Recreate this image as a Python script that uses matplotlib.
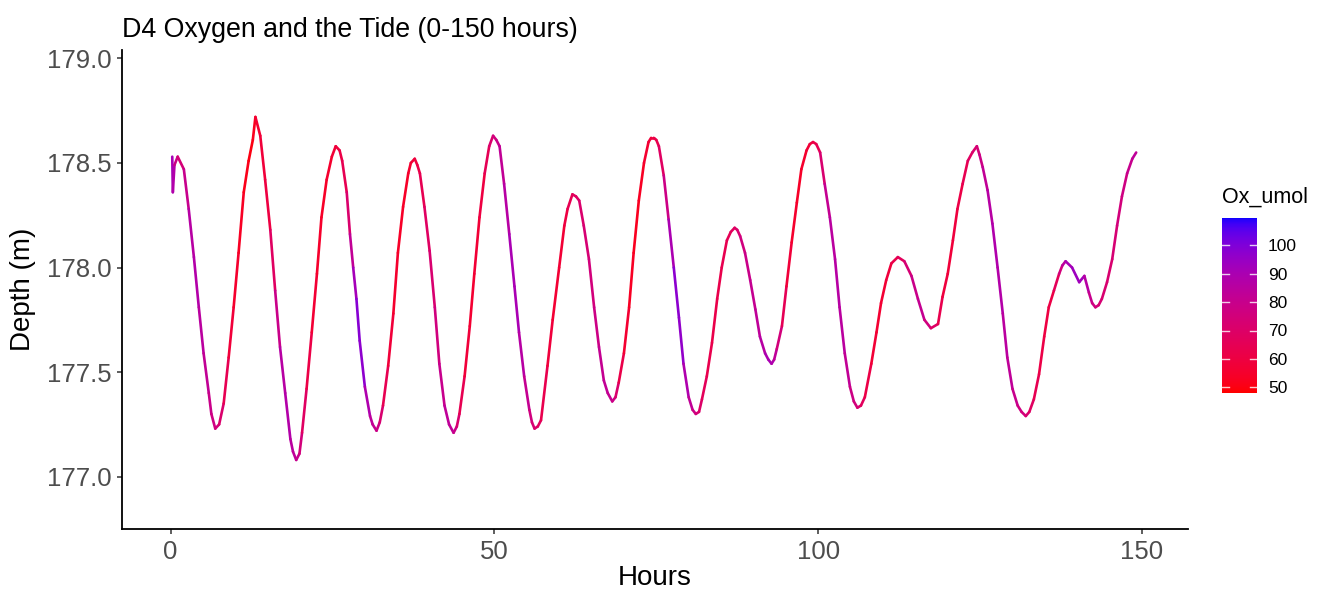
import matplotlib
matplotlib.use("Agg")
import matplotlib.pyplot as plt
import numpy as np
from matplotlib.collections import LineCollection
from matplotlib.colors import ListedColormap, Normalize

plt.rcParams['font.family'] = ['Liberation Sans', 'DejaVu Sans']

# logger record, one row per half tidal cycle:
# hours since deployment, depth (m), oxygen (umol)
hours = [
    0.26, 0.35, 0.6, 1.1, 2.05, 2.8, 3.6, 4.36, 5.1, 5.9, 6.3, 6.9, 7.5,
    8.2, 8.97, 9.74, 10.5, 11.3, 12.05, 12.7, 13.1,
    13.85, 14.6, 15.4, 16.15, 16.9, 17.7, 18.5, 18.9, 19.4, 19.9,
    20.3, 21.0, 21.8, 22.6, 23.3, 24.1, 24.9, 25.5,
    26.1, 26.5, 27.2, 27.7, 28.2, 28.7, 29.2, 30.0, 30.8, 31.2, 31.8, 32.3,
    32.8, 33.6, 34.4, 35.1, 35.9, 36.7, 37.1, 37.7, 38.1,
    38.5, 39.2, 40.0, 40.8, 41.5, 42.3, 43.0, 43.7, 44.2,
    44.6, 45.4, 46.2, 46.9, 47.7, 48.5, 49.2, 49.8, 50.3,
    50.8, 51.5, 52.3, 53.1, 53.8, 54.6, 55.4, 55.8, 56.2, 56.7,
    57.2, 58.2, 59.0, 60.0, 60.8, 61.3, 62.05, 62.6,
    63.1, 63.8, 64.6, 65.4, 66.15, 66.9, 67.5, 68.2, 68.7,
    69.2, 70.0, 70.8, 71.5, 72.3, 73.1, 73.8, 74.2, 74.6, 75.0,
    75.4, 76.15, 76.9, 77.7, 78.5, 79.2, 80.0, 80.6, 81.1, 81.6,
    82.05, 82.8, 83.6, 84.4, 85.1, 85.9, 86.5, 87.1, 87.5,
    87.95, 88.7, 89.5, 90.3, 91.0, 91.8, 92.3, 92.8, 93.2,
    93.6, 94.4, 95.1, 95.9, 96.7, 97.4, 98.2, 98.7, 99.2, 99.7,
    100.3, 101.0, 101.8, 102.6, 103.3, 104.1, 104.9, 105.5, 106.05, 106.6,
    107.2, 108.2, 109.0, 109.7, 110.5, 111.3, 112.3,
    113.3, 114.4, 115.4, 116.4, 117.4,
    118.5, 119.2, 120.0, 120.8, 121.5, 122.3, 123.1, 123.8, 124.5, 124.9,
    125.4, 126.15, 126.9, 127.7, 128.5, 129.2, 130.0, 130.8, 131.4, 132.05, 132.6,
    133.3, 134.1, 134.9, 135.6, 136.4, 137.2, 137.7, 138.2,
    139.2, 140.3, 141.1, 141.8, 142.3, 142.8, 143.3,
    143.8, 144.6, 145.4, 146.15, 146.9, 147.7, 148.5, 149.1,
]

depth = [
    178.53, 178.36, 178.49, 178.53, 178.47, 178.28, 178.05, 177.81, 177.59, 177.40, 177.30, 177.23, 177.25,
    177.35, 177.57, 177.81, 178.07, 178.36, 178.51, 178.61, 178.72,
    178.63, 178.42, 178.18, 177.89, 177.62, 177.40, 177.18, 177.12, 177.08, 177.11,
    177.21, 177.42, 177.69, 177.97, 178.24, 178.42, 178.53, 178.58,
    178.56, 178.51, 178.36, 178.16, 178.00, 177.85, 177.65, 177.43, 177.29, 177.25, 177.22, 177.26,
    177.34, 177.53, 177.78, 178.07, 178.29, 178.45, 178.50, 178.52, 178.49,
    178.45, 178.29, 178.08, 177.81, 177.54, 177.34, 177.25, 177.21, 177.24,
    177.30, 177.48, 177.72, 177.97, 178.24, 178.45, 178.58, 178.63, 178.61,
    178.58, 178.40, 178.16, 177.91, 177.69, 177.48, 177.32, 177.26, 177.23, 177.24,
    177.27, 177.53, 177.75, 178.00, 178.20, 178.28, 178.35, 178.34,
    178.32, 178.20, 178.04, 177.81, 177.62, 177.46, 177.40, 177.36, 177.38,
    177.45, 177.59, 177.81, 178.07, 178.32, 178.50, 178.60, 178.62, 178.62, 178.61,
    178.58, 178.44, 178.23, 178.00, 177.76, 177.54, 177.38, 177.32, 177.30, 177.31,
    177.37, 177.48, 177.64, 177.85, 178.00, 178.13, 178.17, 178.19, 178.18,
    178.15, 178.07, 177.94, 177.80, 177.67, 177.59, 177.56, 177.54, 177.56,
    177.61, 177.72, 177.91, 178.12, 178.31, 178.47, 178.56, 178.59, 178.60, 178.59,
    178.55, 178.40, 178.24, 178.04, 177.81, 177.59, 177.43, 177.36, 177.33, 177.34,
    177.38, 177.54, 177.69, 177.83, 177.94, 178.02, 178.05,
    178.03, 177.96, 177.85, 177.75, 177.71,
    177.73, 177.86, 177.97, 178.13, 178.28, 178.40, 178.51, 178.55, 178.58, 178.54,
    178.48, 178.37, 178.21, 178.00, 177.78, 177.57, 177.42, 177.34, 177.31, 177.29, 177.31,
    177.37, 177.49, 177.67, 177.81, 177.89, 177.97, 178.01, 178.03,
    178.00, 177.93, 177.96, 177.88, 177.83, 177.81, 177.82,
    177.85, 177.93, 178.04, 178.20, 178.34, 178.45, 178.52, 178.55,
]

ox_umol = [
    92, 90, 85, 72, 76, 84, 88, 86, 84, 80, 78, 76, 74,
    68, 60, 56, 54, 52, 50, 50, 54,
    58, 58, 62, 74, 84, 88, 86, 84, 82, 78,
    72, 64, 58, 55, 54, 54, 56, 58,
    60, 62, 66, 76, 88, 95, 102, 92, 85, 82, 80, 76,
    68, 60, 56, 54, 54, 54, 56, 58, 60,
    62, 66, 70, 74, 78, 82, 84, 82, 76,
    68, 60, 56, 56, 58, 62, 68, 74, 78,
    80, 84, 88, 92, 88, 84, 78, 74, 72, 70,
    66, 60, 57, 56, 58, 62, 66, 68,
    70, 72, 74, 76, 80, 82, 82, 80, 76,
    66, 58, 54, 52, 52, 54, 57, 59, 60, 62,
    64, 72, 84, 95, 100, 92, 85, 80, 76, 72,
    68, 64, 62, 62, 63, 64, 66, 68, 70,
    74, 78, 80, 82, 84, 88, 90, 90, 86,
    80, 70, 60, 56, 54, 54, 56, 58, 60, 62,
    66, 78, 84, 86, 86, 84, 80, 76, 74, 70,
    64, 58, 56, 56, 57, 60, 64,
    70, 76, 82, 80, 72,
    66, 60, 58, 58, 60, 62, 66, 70, 72, 76,
    80, 84, 88, 88, 86, 84, 82, 78, 76, 74, 70,
    66, 62, 60, 60, 62, 70, 80, 88,
    92, 94, 90, 82, 78, 76, 74,
    72, 72, 72, 74, 76, 78, 82, 84,
]

ox_limits = (48.0, 109.6)
legend_ticks = [50, 60, 70, 80, 90, 100]

assert len(hours) == len(depth) == len(ox_umol)


def srgb_to_lab(rgb):
    rgb = np.asarray(rgb, dtype=float)
    lin = np.where(rgb <= 0.04045, rgb / 12.92, ((rgb + 0.055) / 1.055) ** 2.4)
    m = np.array([[0.4124, 0.3576, 0.1805],
                  [0.2126, 0.7152, 0.0722],
                  [0.0193, 0.1192, 0.9505]])
    xyz = m @ lin / np.array([0.95047, 1.0, 1.08883])
    f = np.where(xyz > 0.008856, np.cbrt(xyz), 7.787 * xyz + 16 / 116)
    return np.array([116 * f[1] - 16, 500 * (f[0] - f[1]), 200 * (f[1] - f[2])])


def lab_to_srgb(lab):
    L, a, b = lab
    fy = (L + 16) / 116
    f = np.array([fy + a / 500, fy, fy - b / 200])
    xyz = np.where(f ** 3 > 0.008856, f ** 3, (f - 16 / 116) / 7.787)
    xyz = xyz * np.array([0.95047, 1.0, 1.08883])
    m = np.array([[3.2406, -1.5372, -0.4986],
                  [-0.9689, 1.8758, 0.0415],
                  [0.0557, -0.2040, 1.0570]])
    lin = m @ xyz
    rgb = np.where(lin <= 0.0031308, 12.92 * lin, 1.055 * np.clip(lin, 0, None) ** (1 / 2.4) - 0.055)
    return np.clip(rgb, 0, 1)


# red -> blue gradient blended in Lab space
lab_lo = srgb_to_lab([1, 0, 0])
lab_hi = srgb_to_lab([0, 0, 1])
cmap = ListedColormap([lab_to_srgb(lab_lo + t * (lab_hi - lab_lo)) for t in np.linspace(0, 1, 256)])
norm = Normalize(*ox_limits)

W, H = 1324, 593
fig = plt.figure(figsize=(W / 100, H / 100), dpi=100)
ax = fig.add_axes([122 / W, 1 - 529 / H, (1188 - 122) / W, (529 - 50) / H])

x = np.array(hours)
y = np.array(depth)
ox = np.array(ox_umol, dtype=float)
pts = np.column_stack([x, y]).reshape(-1, 1, 2)
segs = np.concatenate([pts[:-1], pts[1:]], axis=1)
lc = LineCollection(segs, cmap=cmap, norm=norm, linewidths=1.9, capstyle='round', joinstyle='round')
lc.set_array((ox[:-1] + ox[1:]) / 2)
ax.add_collection(lc)

ax.set_xlim(-7.5, 157.1)
ax.set_ylim(176.75, 179.04)
ax.set_xticks([0, 50, 100, 150])
ax.set_yticks([177.0, 177.5, 178.0, 178.5, 179.0])
ax.set_yticklabels(['177.0', '177.5', '178.0', '178.5', '179.0'])

for side in ['top', 'right']:
    ax.spines[side].set_visible(False)
for side in ['left', 'bottom']:
    ax.spines[side].set_linewidth(1.3)
    ax.spines[side].set_color('black')
ax.tick_params(length=3.8, width=1.1, color='#333333', labelcolor='#4D4D4D',
               labelsize=18.5, pad=3.5)
ax.tick_params(axis='x', pad=4)

ax.set_xlabel('Hours', fontsize=20, color='black', labelpad=1)
ax.set_ylabel('Depth (m)', fontsize=20, color='black', labelpad=8)
fig.text(122 / W, 1 - 37 / H, 'D4 Oxygen and the Tide (0-150 hours)', fontsize=19.3,
         ha='left', va='baseline')

# colour bar legend
cax = fig.add_axes([1222 / W, 1 - 393 / H, 35 / W, 175 / H])
grad = np.linspace(ox_limits[0], ox_limits[1], 300).reshape(-1, 1)
cax.imshow(grad, aspect='auto', origin='lower', cmap=cmap, norm=norm,
           extent=[0, 1, ox_limits[0], ox_limits[1]])
cax.set_xlim(0, 1)
cax.set_ylim(*ox_limits)
for v in legend_ticks:
    cax.plot([0, 0.2], [v, v], color='white', lw=1, alpha=0.8)
    cax.plot([0.8, 1], [v, v], color='white', lw=1, alpha=0.8)
cax.set_xticks([])
cax.yaxis.tick_right()
cax.set_yticks(legend_ticks)
cax.tick_params(axis='y', length=0, pad=8, labelsize=12.5, labelcolor='black')
for s in cax.spines.values():
    s.set_visible(False)
fig.text(1222 / W, 1 - 203 / H, 'Ox_umol', fontsize=15.5, ha='left', va='baseline')

fig.savefig('out.png', dpi=100)
